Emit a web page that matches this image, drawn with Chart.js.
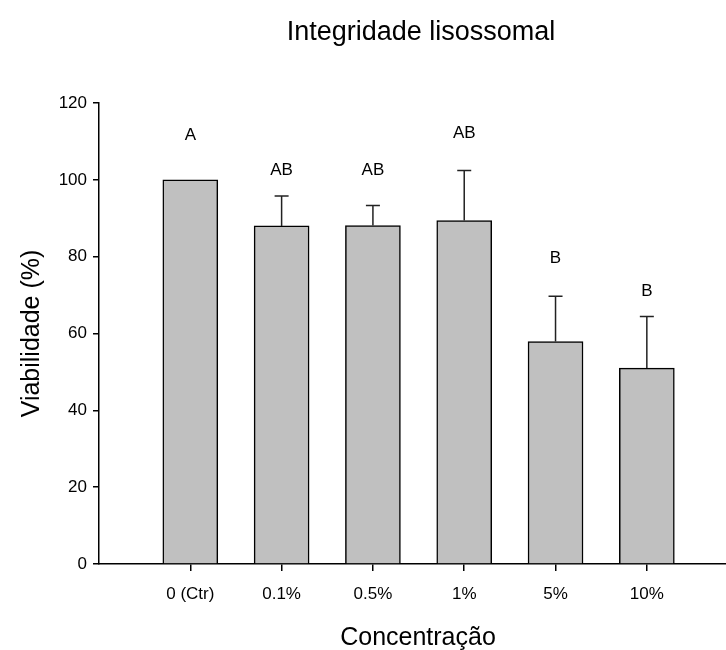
<!DOCTYPE html>
<html>
<head>
<meta charset="utf-8">
<script src="https://cdn.jsdelivr.net/npm/chart.js@4"></script>
<style>
  html, body { margin: 0; padding: 0; background: #fff; }
  #wrap { width: 726px; height: 650px; }
</style>
</head>
<body>
<div id="wrap"><canvas id="chart" width="726" height="650"></canvas></div>
<script>
const categorias = ['0 (Ctr)', '0.1%', '0.5%', '1%', '5%', '10%'];
const viabilidade = [100, 88.0, 88.1, 89.4, 57.9, 51.0];
const erro = [0, 7.8, 5.2, 13.0, 11.8, 13.4];
const letras = ['A', 'AB', 'AB', 'AB', 'B', 'B'];
const letrasY = [111.7, 102.6, 102.6, 112.2, 79.6, 71.1];
const ticksY = [0, 20, 40, 60, 80, 100, 120];

const fonte = "'Liberation Sans', Arial, sans-serif";

// error bars, significance letters and the titles
const extras = {
    id: 'extras',
    afterDatasetsDraw(chart) {
        const ctx = chart.ctx;
        const x = chart.scales.x;
        const y = chart.scales.y;
        ctx.save();
        ctx.strokeStyle = '#222';
        ctx.lineWidth = 1.5;
        viabilidade.forEach((v, i) => {
            if (!erro[i]) return;
            const px = x.getPixelForValue(i + 1);
            const y0 = y.getPixelForValue(v);
            const y1 = y.getPixelForValue(v + erro[i]);
            ctx.beginPath();
            ctx.moveTo(px, y0);
            ctx.lineTo(px, y1);
            ctx.moveTo(px - 7, y1);
            ctx.lineTo(px + 7, y1);
            ctx.stroke();
        });
        ctx.fillStyle = '#000';
        ctx.font = '17px ' + fonte;
        ctx.textAlign = 'center';
        ctx.textBaseline = 'middle';
        letras.forEach((t, i) => {
            ctx.fillText(t, x.getPixelForValue(i + 1), y.getPixelForValue(letrasY[i]));
        });
        ctx.textBaseline = 'alphabetic';
        ctx.font = '27px ' + fonte;
        ctx.fillText('Integridade lisossomal', 421, 40);
        ctx.font = '25px ' + fonte;
        ctx.fillText('Concentração', 418, 645);
        ctx.restore();
    }
};

const data = {
    datasets: [{
        data: viabilidade.map((v, i) => ({ x: i + 1, y: v })),
        backgroundColor: '#c0c0c0',
        borderColor: '#000',
        borderWidth: 1.5,
        barThickness: 55
    }]
};

const config = {
    type: 'bar',
    data,
    options: {
        responsive: false,
        animation: false,
        layout: {
            padding: { top: 103, right: 0, bottom: 0, left: 0 }
        },
        plugins: {
            legend: { display: false },
            tooltip: { enabled: false }
        },
        scales: {
            x: {
                type: 'linear',
                min: 0,
                max: 6.867,
                offset: false,
                afterBuildTicks: s => { s.ticks = categorias.map((c, i) => ({ value: i + 1 })); },
                afterFit: s => { s.height = 86; },
                grid: { drawOnChartArea: false, offset: false, color: '#000', tickLength: 7, lineWidth: 1.5 },
                border: { color: '#000', width: 1.5 },
                ticks: {
                    color: '#000',
                    font: { family: fonte, size: 17 },
                    padding: 13,
                    maxRotation: 0,
                    callback: v => categorias[v - 1]
                }
            },
            y: {
                min: 0,
                max: 120,
                afterBuildTicks: s => { s.ticks = ticksY.map(v => ({ value: v })); },
                afterFit: s => { s.width = 99; },
                grid: { drawOnChartArea: false, color: '#000', tickLength: 6, lineWidth: 1.5 },
                border: { color: '#000', width: 1.5 },
                ticks: {
                    color: '#000',
                    font: { family: fonte, size: 17 },
                    padding: 6
                },
                title: {
                    display: true,
                    text: 'Viabilidade (%)',
                    color: '#000',
                    font: { family: fonte, size: 25 },
                    padding: { top: 17, bottom: 0 }
                }
            }
        }
    },
    plugins: [extras]
};

var chart = document.getElementById('chart');
var myChart = new Chart(chart, config);
</script>
</body>
</html>
